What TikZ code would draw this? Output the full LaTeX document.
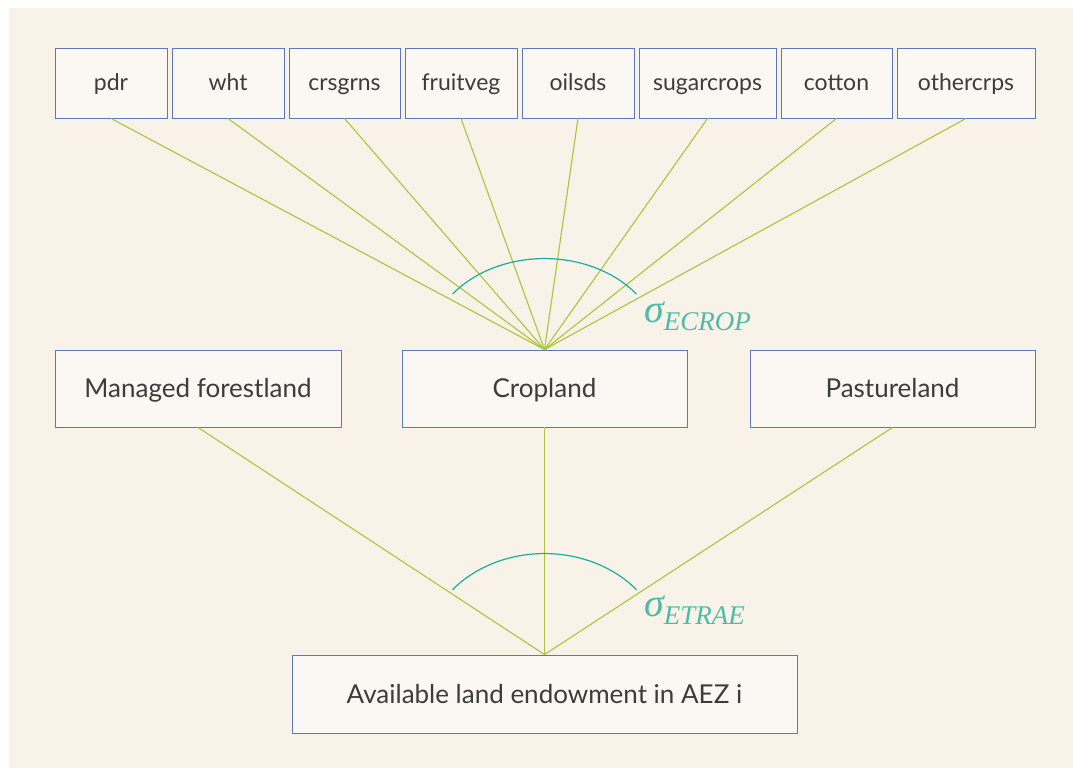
\documentclass[tikz,border=0pt]{standalone}
\usepackage{fontspec}
\setmainfont{Lato}
\newfontfamily\sigfont{Liberation Serif}
\definecolor{bgbeige}{HTML}{F9F2E8}
\definecolor{boxfill}{HTML}{FBF8F3}
\definecolor{boxline}{HTML}{5C78BC}
\definecolor{linkgreen}{HTML}{A9C63C}
\definecolor{arcteal}{HTML}{1AAE9E}
\definecolor{sigteal}{HTML}{4DBBA5}
\definecolor{txtgray}{HTML}{3C3C3C}
\tikzset{
  cbox/.style={draw=boxline, line width=0.9pt, fill=boxfill, inner sep=0pt,
    text=txtgray, font=\fontsize{26}{30}\selectfont, align=center,
    text height=18pt, text depth=0pt},
  smallbox/.style={cbox, font=\fontsize{23}{27}\selectfont, text height=15pt,
    minimum height=70},
  link/.style={draw=linkgreen, line width=1.1pt},
  sigarc/.style={draw=arcteal, line width=1.2pt},
  siglab/.style={text=sigteal, inner sep=0pt, anchor=base west}
}
\newcommand{\sigmalabel}[1]{{\sigfont\itshape\fontsize{40}{40}\selectfont σ}\raisebox{-8pt}{\sigfont\itshape\fontsize{27}{27}\selectfont #1}}
\begin{document}
\begin{tikzpicture}[x=1pt,y=-1pt]
\useasboundingbox (0,0) rectangle (1073,768);
\fill[white] (0,0) rectangle (1073,768);
\fill[bgbeige] (9,8) rectangle (1073,768);
% top row
\node[smallbox, minimum width=112] (pdr) at (111,83) {pdr};
\node[smallbox, minimum width=112] (wht) at (228,83) {wht};
\node[smallbox, minimum width=111] (crsgrns) at (344.5,83) {crsgrns};
\node[smallbox, minimum width=112] (fruitveg) at (461,83) {fruitveg};
\node[smallbox, minimum width=112] (oilsds) at (578,83) {oilsds};
\node[smallbox, minimum width=137] (sugar) at (707.5,83) {sugarcrops};
\node[smallbox, minimum width=111] (cotton) at (836.5,83) {cotton};
\node[smallbox, minimum width=138] (other) at (966,83) {othercrps};
% middle row
\node[cbox, minimum width=286, minimum height=77] (forest) at (198,388.5) {Managed forestland};
\node[cbox, minimum width=285, minimum height=77] (crop) at (544.5,388.5) {Cropland};
\node[cbox, minimum width=285, minimum height=77] (pasture) at (892.5,388.5) {Pastureland};
% bottom
\node[cbox, minimum width=505, minimum height=78] (land) at (544.5,694) {Available land endowment in AEZ i};
% links
\foreach \n in {pdr,wht,crsgrns,fruitveg,oilsds,sugar,cotton,other}
  \draw[link] (\n.south) -- (crop.north);
\foreach \n in {forest,crop,pasture}
  \draw[link] (\n.south) -- (land.north);
% arcs
\draw[sigarc] (crop.north) ++(217.5:116 and 91) arc[start angle=217.5, end angle=322.5, x radius=116, y radius=91];
\draw[sigarc] (land.north) ++(220:120 and 101) arc[start angle=220, end angle=320, x radius=120, y radius=101];
% labels
\node[siglab] (secrop) at (644,322) {\sigmalabel{ECROP}};
\node[siglab] (setrae) at (644,616) {\sigmalabel{ETRAE}};
\end{tikzpicture}
\end{document}
